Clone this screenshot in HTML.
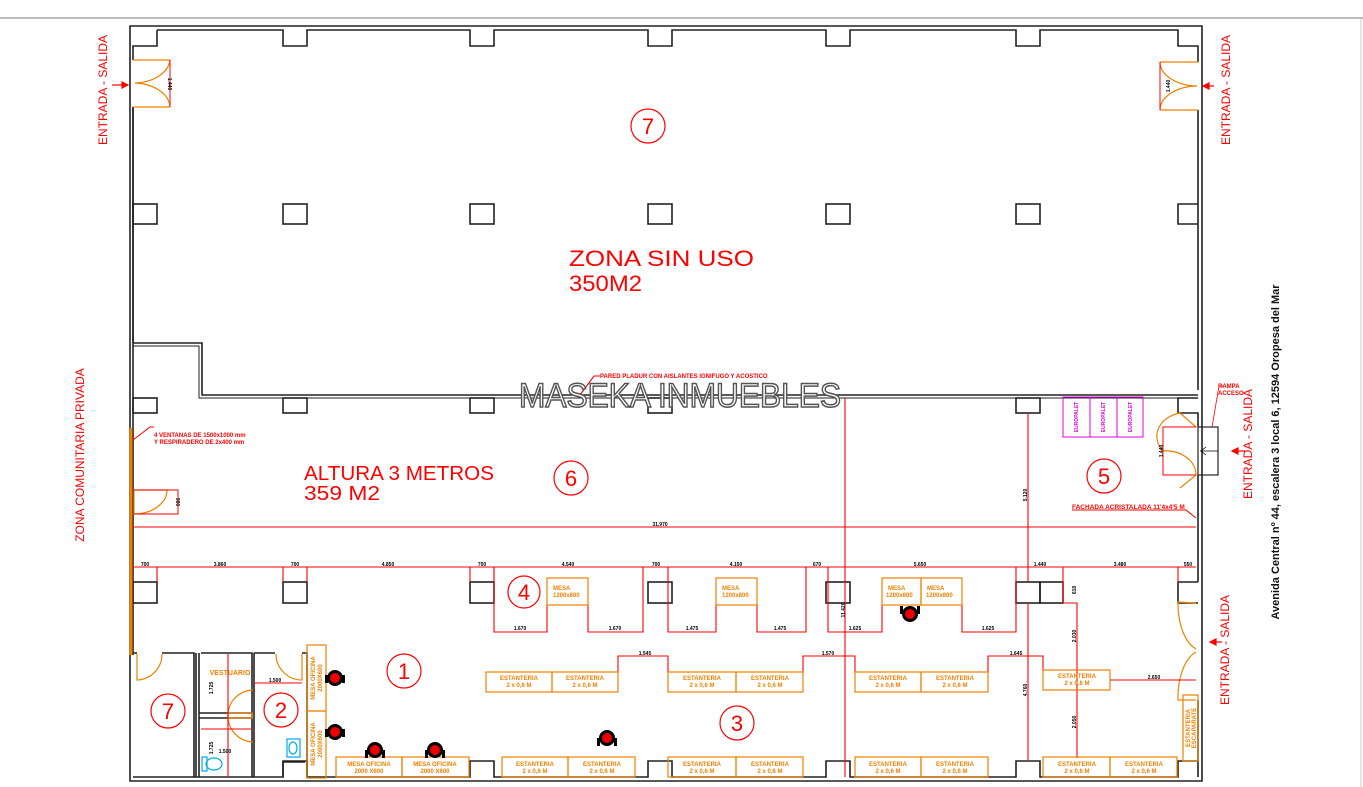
<!DOCTYPE html>
<html><head><meta charset="utf-8"><style>
html,body{margin:0;padding:0;background:#fff;}
svg{display:block;}
text{font-family:"Liberation Sans",sans-serif;}
.r{fill:#f00;}
.o{fill:#f08000;font-weight:bold;font-size:6px;}
.d{fill:#000;font-size:5px;font-weight:bold;}
</style></head><body>
<svg width="1363" height="787" viewBox="0 0 1363 787" xmlns="http://www.w3.org/2000/svg">
<rect width="1363" height="787" fill="#fff"/>
<line x1="0" y1="18" x2="1363" y2="18" stroke="#bbb" stroke-width="2"/>
<line x1="1361" y1="18" x2="1361" y2="787" stroke="#ccc" stroke-width="1"/>

<g fill="none" stroke="#222" stroke-width="1.6">
<path d="M130 26 H1202 V781 H130 Z"/>
<path d="M157 30 V46 H133 V60 M133 107 V343"/>
<path d="M157 30 H283 V46 H307 V30 H470 V46 H494 V30 H648 V46 H672 V30 H826 V46 H850 V30 H1016 V46 H1040 V30 H1178 V46 H1198 V62 M1198 110 V390"/>
<rect x="133" y="204" width="24" height="20"/><rect x="283" y="204" width="24" height="20"/>
<rect x="470" y="204" width="24" height="20"/><rect x="648" y="204" width="24" height="20"/>
<rect x="826" y="204" width="24" height="20"/><rect x="1016" y="204" width="24" height="20"/>
<path d="M1198 204 H1178 V224 H1198"/>
<path d="M133 343 H202 V395 H1198"/>
<path d="M133 346 H199 V398 H1198" stroke-width="1"/>
<rect x="133" y="398" width="24" height="15"/><rect x="283" y="398" width="24" height="15"/>
<rect x="470" y="398" width="24" height="15"/><rect x="648" y="398" width="24" height="15"/>
<rect x="1016" y="398" width="24" height="15"/>
<path d="M1198 398 H1178 V413 H1198 V427 M1198 475 V582"/>
<rect x="133" y="582" width="24" height="21"/><rect x="283" y="582" width="24" height="21"/>
<rect x="470" y="582" width="24" height="21"/><rect x="648" y="582" width="24" height="21"/>
<rect x="826" y="582" width="24" height="21"/><rect x="1016" y="582" width="24" height="21"/>
<rect x="1040" y="582" width="23" height="21"/>
<path d="M1198 582 H1178 V603 H1198"/>
<path d="M1198 700 V777"/>
<path d="M133 777 H283 V761 H307 V777 H470 V761 H494 V777 H648 V761 H672 V777 H826 V761 H850 V777 H1016 V761 H1040 V777 H1178 V761 H1198"/>
<path d="M133 107 V655" />
<path d="M133 653 H137 M162 653 H194 V777 M196 653 V777 M199 653 V777 M201 653 H252 V777 M254 653 V777 M254 653 H275 M302 653 H307 V777 M199 713 H252 M199 718 H252 M283 777 V762 H305"/>
</g>
<line x1="131" y1="428" x2="131" y2="655" stroke="#f08000" stroke-width="3"/>

<g fill="none" stroke="#f08000" stroke-width="1.2">
<path d="M133 60 H170 M133 107 H170 M170 60 A37 25 0 0 1 135 83 M170 107 A37 25 0 0 0 135 83"/>
<path d="M1160 62 H1198 M1160 110 H1198 M1160 62 A38 24 0 0 0 1197 86 M1160 110 A38 24 0 0 1 1197 86"/>
<path d="M1196 427 L1180 413 A30 24 0 0 0 1163 451 M1163 451 A30 24 0 0 1 1196 475 L1180 488"/>
<path d="M1196 603 L1178 602 A25 47 0 0 0 1196 649 M1196 652 A25 47 0 0 0 1178 700 L1196 700"/>
<path d="M134 490 V514 A33 24 0 0 0 167 490 H134"/>
<path d="M137 654 V680 A26 26 0 0 0 162 654"/>
<path d="M302 654 V680 A26 26 0 0 1 276 654"/>
<path d="M253 690 A26 25 0 0 0 228 715 A26 26 0 0 0 253 742"/>
<path d="M228 713 H252 V718 H228 Z"/>
</g>
<g fill="none" stroke="#f00" stroke-width="1">
<path d="M170 60 V107"/><path d="M1160 62 V110"/>
<path d="M134 490 H178 V514 H134"/>
<path d="M1196 427 H1163 V475 H1196"/>
</g>
<rect x="1198" y="427" width="20" height="48" fill="none" stroke="#222" stroke-width="1.2"/>
<path d="M1218 451 H1200 M1206 447 L1201 451 L1206 455" fill="none" stroke="#000" stroke-width="0.8"/>
<path d="M1212 427 L1219 386 H1224" fill="none" stroke="#f00" stroke-width="0.8"/>
<text x="1218" y="388" class="r" font-size="6" font-weight="bold">RAMPA</text>
<text x="1218" y="395" class="r" font-size="6" font-weight="bold">ACCESO</text>

<g stroke="#f00" stroke-width="1.1" fill="none">
<line x1="133" y1="527" x2="1196" y2="527"/>
<line x1="845" y1="398" x2="845" y2="777"/>
<line x1="1028" y1="413" x2="1028" y2="582"/>
<line x1="1028" y1="603" x2="1028" y2="760"/>
<path d="M133 567 H1196"/>
<path d="M157 567 V582 M283 567 V582 M307 567 V582 M470 567 V582 M494 567 V582"/>
<path d="M494 567 V632 H547 V605 M588 605 V632 H643 V567"/>
<path d="M668 567 V632 H716 V605 M757 605 V632 H806 V567"/>
<path d="M828 567 V632 H882 V605 M962 605 V632 H1016 V567"/>
<path d="M1063 567 V603 H1077 V758"/>
<path d="M1178 567 V582"/>
<path d="M1110 680 H1196"/>
<path d="M618 672 V656 H668 V672 M803 672 V656 H855 V672 M988 672 V656 H1043 V672"/>
<path d="M228 654 V777"/>
<path d="M254 683 H302 M201 729 H252"/>
<path d="M580 395 L594 376 H600"/>
<path d="M133 440 L150 427 H154"/>
<path d="M1072 510 H1186 L1196 518"/>
</g>
<g class="d" text-anchor="middle">
<text x="145" y="566">700</text><text x="220" y="566">3.860</text><text x="295" y="566">700</text>
<text x="388" y="566">4.850</text><text x="482" y="566">700</text><text x="568" y="566">4.540</text>
<text x="656" y="566">700</text><text x="736" y="566">4.150</text><text x="817" y="566">670</text>
<text x="920" y="566">5.650</text><text x="1040" y="566">1.440</text><text x="1120" y="566">3.480</text>
<text x="1188" y="566">550</text>
<text x="660" y="526">31.970</text>
<text x="520" y="630">1.670</text><text x="615" y="630">1.670</text>
<text x="692" y="630">1.475</text><text x="780" y="630">1.475</text>
<text x="855" y="630">1.625</text><text x="988" y="630">1.625</text>
<text x="645" y="655">1.545</text><text x="828" y="655">1.570</text><text x="1016" y="655">1.645</text>
<text x="1154" y="679">2.650</text>
<text x="275" y="682">1.500</text><text x="225" y="753">1.500</text>
</g>
<g class="d" text-anchor="middle">
<text transform="translate(168,84) rotate(90)">1.440</text>
<text transform="translate(1170,86) rotate(-90)">1.440</text>
<text transform="translate(1163,451) rotate(-90)">1.440</text>
<text transform="translate(176,502) rotate(90)">900</text>
<text transform="translate(1027,495) rotate(-90)">5.120</text>
<text transform="translate(1027,690) rotate(-90)">4.760</text>
<text transform="translate(845,610) rotate(-90)">11.420</text>
<text transform="translate(1076,590) rotate(-90)">618</text>
<text transform="translate(1076,636) rotate(-90)">2.030</text>
<text transform="translate(1076,722) rotate(-90)">2.050</text>
<text transform="translate(213,688) rotate(-90)">1.725</text>
<text transform="translate(213,748) rotate(-90)">1.725</text>
</g>

<g fill="none" stroke="#f08000" stroke-width="1.2">
<rect x="547" y="578" width="41" height="27"/><rect x="716" y="578" width="41" height="27"/>
<rect x="882" y="578" width="39" height="27"/><rect x="921" y="578" width="41" height="27"/>
<rect x="486" y="672" width="66" height="20"/><rect x="552" y="672" width="66" height="20"/>
<rect x="668" y="672" width="68" height="20"/><rect x="736" y="672" width="67" height="20"/>
<rect x="855" y="672" width="66" height="20"/><rect x="921" y="672" width="67" height="20"/>
<rect x="1043" y="670" width="67" height="20"/>
<rect x="502" y="757" width="66" height="20"/><rect x="568" y="757" width="67" height="20"/>
<rect x="668" y="757" width="68" height="20"/><rect x="736" y="757" width="67" height="20"/>
<rect x="855" y="757" width="66" height="20"/><rect x="921" y="757" width="67" height="20"/>
<rect x="1043" y="757" width="67" height="20"/><rect x="1110" y="757" width="67" height="20"/>
<rect x="336" y="757" width="66" height="20"/><rect x="402" y="757" width="67" height="20"/>
<rect x="307" y="645" width="19" height="66"/><rect x="307" y="711" width="19" height="67"/>
<rect x="1183" y="695" width="15" height="66"/>
</g>
<g class="o">
<text x="553" y="590">MESA</text><text x="553" y="597">1200x800</text>
<text x="722" y="590">MESA</text><text x="722" y="597">1200x800</text>
<text x="888" y="590">MESA</text><text x="886" y="597">1200x800</text>
<text x="927" y="590">MESA</text><text x="926" y="597">1200x800</text>
</g>
<g class="o" text-anchor="middle">
<text x="519" y="680">ESTANTERIA</text><text x="519" y="687">2 x 0,6 M</text>
<text x="585" y="680">ESTANTERIA</text><text x="585" y="687">2 x 0,6 M</text>
<text x="702" y="680">ESTANTERIA</text><text x="702" y="687">2 x 0,6 M</text>
<text x="770" y="680">ESTANTERIA</text><text x="770" y="687">2 x 0,6 M</text>
<text x="888" y="680">ESTANTERIA</text><text x="888" y="687">2 x 0,6 M</text>
<text x="955" y="680">ESTANTERIA</text><text x="955" y="687">2 x 0,6 M</text>
<text x="1077" y="678">ESTANTERIA</text><text x="1077" y="685">2 x 0,6 M</text>
<text x="535" y="766">ESTANTERIA</text><text x="535" y="773">2 x 0,6 M</text>
<text x="602" y="766">ESTANTERIA</text><text x="602" y="773">2 x 0,6 M</text>
<text x="702" y="766">ESTANTERIA</text><text x="702" y="773">2 x 0,6 M</text>
<text x="770" y="766">ESTANTERIA</text><text x="770" y="773">2 x 0,6 M</text>
<text x="888" y="766">ESTANTERIA</text><text x="888" y="773">2 x 0,6 M</text>
<text x="955" y="766">ESTANTERIA</text><text x="955" y="773">2 x 0,6 M</text>
<text x="1077" y="766">ESTANTERIA</text><text x="1077" y="773">2 x 0,6 M</text>
<text x="1144" y="766">ESTANTERIA</text><text x="1144" y="773">2 x 0,6 M</text>
<text x="369" y="766">MESA OFICINA</text><text x="369" y="773">2000 X600</text>
<text x="435" y="766">MESA OFICINA</text><text x="435" y="773">2000 X600</text>
<text transform="translate(315,678) rotate(-90)">MESA OFICINA</text>
<text transform="translate(322,678) rotate(-90)">2000X600</text>
<text transform="translate(315,744) rotate(-90)">MESA OFICINA</text>
<text transform="translate(322,744) rotate(-90)">2000X600</text>
<text transform="translate(1190,728) rotate(-90)">ESTANTERIA</text>
<text transform="translate(1196,728) rotate(-90)">ESCAPARATE</text>
<text x="230" y="675" font-size="7">VESTUARIO</text>
</g>
<g fill="none" stroke="#e000e0" stroke-width="1">
<rect x="1063" y="397" width="27" height="40"/><rect x="1090" y="397" width="27" height="40"/><rect x="1117" y="397" width="26" height="40"/>
</g>
<g fill="#e000e0" font-size="5" font-weight="bold" text-anchor="middle">
<text transform="translate(1078,417) rotate(-90)">EUROPALET</text>
<text transform="translate(1105,417) rotate(-90)">EUROPALET</text>
<text transform="translate(1132,417) rotate(-90)">EUROPALET</text>
</g>
<g fill="none" stroke="#00aaee" stroke-width="1.2">
<rect x="287" y="739" width="13" height="18"/><ellipse cx="293" cy="748" rx="4" ry="6"/>
<rect x="202" y="757" width="5" height="14"/><ellipse cx="214" cy="764" rx="8" ry="6"/>
</g>

<g>
<g transform="translate(335,678)"><circle r="8" fill="#000"/><circle r="5" fill="#e00"/><rect x="-10" y="-3" width="3" height="8" fill="#000"/><rect x="7" y="-3" width="3" height="8" fill="#000"/></g>
<g transform="translate(335,732)"><circle r="8" fill="#000"/><circle r="5" fill="#e00"/><rect x="-10" y="-3" width="3" height="8" fill="#000"/><rect x="7" y="-3" width="3" height="8" fill="#000"/></g>
<g transform="translate(375,750)"><circle r="8" fill="#000"/><circle r="5" fill="#e00"/><rect x="-10" y="0" width="3" height="8" fill="#000"/><rect x="7" y="0" width="3" height="8" fill="#000"/></g>
<g transform="translate(435,750)"><circle r="8" fill="#000"/><circle r="5" fill="#e00"/><rect x="-10" y="0" width="3" height="8" fill="#000"/><rect x="7" y="0" width="3" height="8" fill="#000"/></g>
<g transform="translate(607,738)"><circle r="8" fill="#000"/><circle r="5" fill="#e00"/><rect x="-10" y="0" width="3" height="8" fill="#000"/><rect x="7" y="0" width="3" height="8" fill="#000"/></g>
<g transform="translate(910,614)"><circle r="8" fill="#000"/><circle r="5" fill="#e00"/><rect x="-10" y="-8" width="3" height="8" fill="#000"/><rect x="7" y="-8" width="3" height="8" fill="#000"/></g>
</g>

<g fill="none" stroke="#f00" stroke-width="1.2">
<circle cx="648" cy="126" r="17"/><circle cx="571" cy="478" r="17"/><circle cx="1104" cy="476" r="17"/>
<circle cx="524" cy="592" r="16"/><circle cx="404" cy="671" r="17"/><circle cx="737" cy="723" r="17"/>
<circle cx="168" cy="711" r="17"/><circle cx="281" cy="710" r="17"/>
</g>
<g class="r" font-size="22" text-anchor="middle">
<text x="648" y="134">7</text><text x="571" y="486">6</text><text x="1104" y="484">5</text>
<text x="524" y="600">4</text><text x="404" y="679">1</text><text x="737" y="731">3</text>
<text x="168" y="719">7</text><text x="281" y="718">2</text>
</g>

<text x="569" y="266" class="r" font-size="22" textLength="185" lengthAdjust="spacingAndGlyphs">ZONA SIN USO</text>
<text x="569" y="291" class="r" font-size="22" textLength="73" lengthAdjust="spacingAndGlyphs">350M2</text>
<text x="304" y="480" class="r" font-size="20" textLength="190" lengthAdjust="spacingAndGlyphs">ALTURA 3 METROS</text>
<text x="304" y="500" class="r" font-size="20" textLength="76" lengthAdjust="spacingAndGlyphs">359 M2</text>
<text x="600" y="378" class="r" font-size="6" font-weight="bold">PARED PLADUR CON AISLANTES IGNIFUGO Y ACOSTICO</text>
<text x="154" y="437" class="r" font-size="6" font-weight="bold">4 VENTANAS DE 1500x1000 mm</text>
<text x="154" y="444" class="r" font-size="6" font-weight="bold">Y RESPIRADERO DE 2x400 mm</text>
<text x="1072" y="509" class="r" font-size="6.5" font-weight="bold">FACHADA ACRISTALADA 11'4x4'5 M</text>

<text x="680" y="407" text-anchor="middle" font-size="34" fill="#fff" stroke="#555" stroke-width="1.5" textLength="322" lengthAdjust="spacingAndGlyphs">MASEKA INMUEBLES</text>

<g class="r" font-size="12" text-anchor="middle">
<text transform="translate(107,90) rotate(-90)">ENTRADA  -  SALIDA</text>
<text transform="translate(1230,90) rotate(-90)">ENTRADA  -  SALIDA</text>
<text transform="translate(1252,444) rotate(-90)">ENTRADA  -  SALIDA</text>
<text transform="translate(1229,650) rotate(-90)">ENTRADA  -  SALIDA</text>
<text transform="translate(84,455) rotate(-90)">ZONA COMUNITARIA PRIVADA</text>
</g>
<g stroke="#f00" stroke-width="1.2" fill="#f00">
<line x1="112" y1="85" x2="124" y2="85"/><path d="M128 85 L122 82 L122 88 Z"/>
<line x1="1207" y1="86" x2="1214" y2="86"/><path d="M1203 86 L1209 83 L1209 89 Z"/>
<line x1="1237" y1="451" x2="1245" y2="451"/><path d="M1232 451 L1238 448 L1238 454 Z"/>
<line x1="1215" y1="642" x2="1222" y2="642"/><path d="M1210 642 L1216 639 L1216 645 Z"/>
</g>
<text transform="translate(1279,452) rotate(-90)" text-anchor="middle" font-size="11" font-weight="bold" fill="#111">Avenida Central nº 44, escalera 3 local 6, 12594 Oropesa del Mar</text>
</svg>
</body></html>
